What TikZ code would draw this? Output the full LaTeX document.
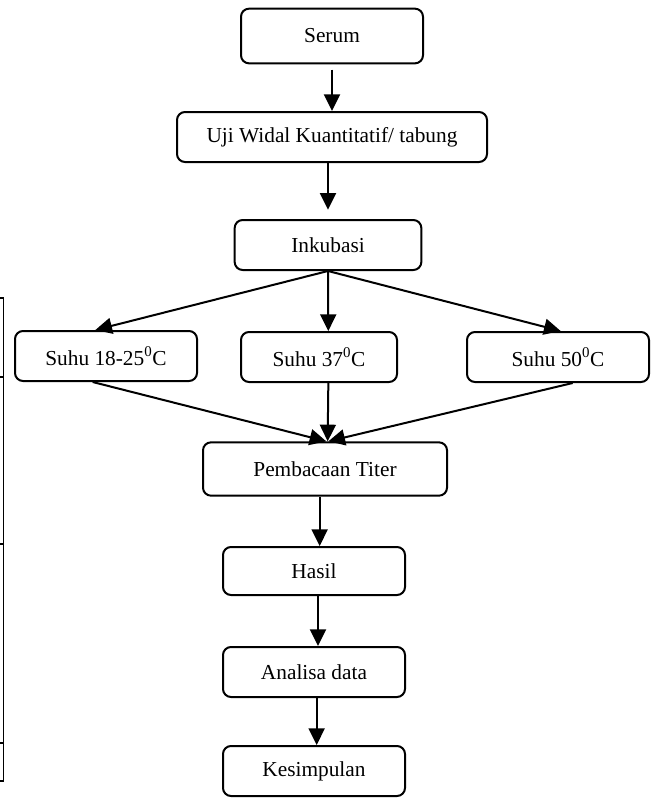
\documentclass[tikz,border=0pt]{standalone}
\usepackage{fontspec}
\setmainfont{Liberation Serif}
\usetikzlibrary{arrows.meta}

\begin{document}
\begin{tikzpicture}[x=0.75pt,y=-0.75pt,
  box/.style={draw=black,line width=1.5pt,rounded corners=6pt,minimum height=37.5pt,
    inner sep=0pt,font=\fontsize{16}{19}\selectfont},
  arr/.style={line width=1.5pt,-{Triangle[length=12.5pt,width=12pt]}}]
\useasboundingbox (0,0) rectangle (655,800);
% leftover table edge
\draw [line width=1pt] (3.5,298) -- (3.5,781);
\draw [line width=1pt] (0,298) -- (3.5,298);
\draw [line width=1pt] (0,377) -- (3.5,377);
\draw [line width=1pt] (0,544) -- (3.5,544);
\draw [line width=1pt] (0,743) -- (3.5,743);
\draw [line width=1pt] (0,781) -- (3.5,781);
% boxes
\node [box,minimum width=136.5pt,minimum height=41pt] (serum) at (332,36) {Serum};
\node [box,minimum width=232.5pt] (uji) at (332,137) {Uji Widal Kuantitatif/ tabung};
\node [box,minimum width=140pt] (ink) at (328,245) {Inkubasi};
\node [box,minimum width=136.5pt] (s1) at (106,356) {Suhu 18-25\textsuperscript{0}C};
\node [box,minimum width=117pt] (s2) at (319,357) {Suhu 37\textsuperscript{0}C};
\node [box,minimum width=136.5pt] (s3) at (558,357) {Suhu 50\textsuperscript{0}C};
\node [box,minimum width=183pt,minimum height=40pt] (pem) at (325,469) {Pembacaan Titer};
\node [box,minimum width=136.5pt,minimum height=36pt] (hasil) at (314,571) {Hasil};
\node [box,minimum width=136.5pt] (ana) at (314,672) {Analisa data};
\node [box,minimum width=136.5pt] (kes) at (314,771) {Kesimpulan};
% arrows
\draw [arr,shorten <=4pt] (serum.south) -- (uji.north);
\draw [arr,shorten >=7pt] ([xshift=-3pt]uji.south) -- ([xshift=-3pt]uji.south |- ink.north);
\draw [arr] (ink.south) -- ([xshift=-8pt]s1.north);
\draw [arr] (ink.south) -- ([xshift=7pt]s2.north);
\draw [arr] (ink.south) -- ([xshift=2pt]s3.north);
\draw [arr] ([xshift=-10pt]s1.south) -- ([xshift=1pt]pem.north);
\draw [arr] ([xshift=7pt]s2.south) -- ([xshift=2pt]pem.north);
\draw [arr] ([xshift=11pt]s3.south) -- ([xshift=2.5pt]pem.north);
\draw [arr] ([xshift=-4pt]pem.south) -- ([xshift=-4pt]pem.south |- hasil.north);
\draw [arr] ([xshift=3pt]hasil.south) -- ([xshift=3pt]ana.north);
\draw [arr] ([xshift=2pt]ana.south) -- ([xshift=2pt]kes.north);
\end{tikzpicture}
\end{document}
